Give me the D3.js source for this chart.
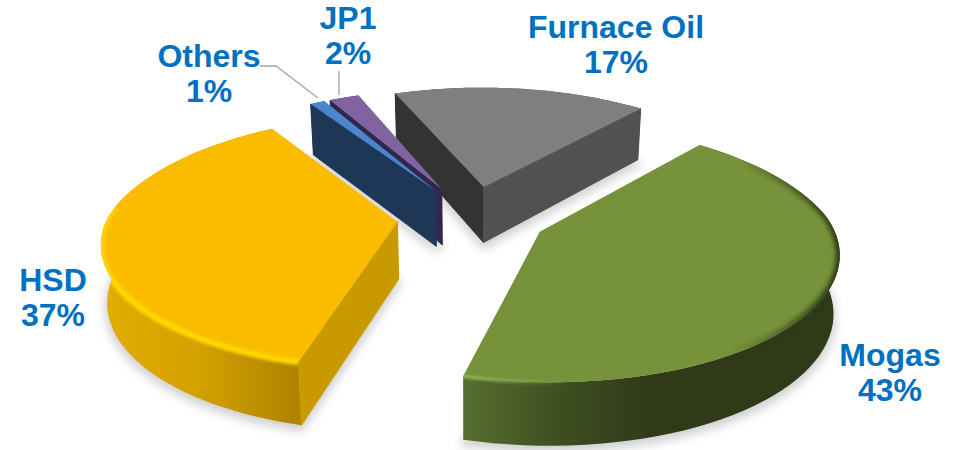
<!DOCTYPE html>
<html>
<head>
<meta charset="utf-8">
<script src="https://cdn.jsdelivr.net/npm/d3@7"></script>
<style>
html,body{margin:0;padding:0;background:#fff;overflow:hidden}
text{font-family:"Liberation Sans",Arial,sans-serif;font-weight:bold;fill:#0070C0;text-anchor:middle}
</style>
</head>
<body>
<svg id="chart" width="955" height="450"></svg>
<script>
// Fuel mix, clockwise from the first slice
const categories = ["Mogas", "HSD", "Others", "JP1", "Furnace Oil"];
const shares = [43, 37, 1, 2, 17];
const topColors = ["#76923A", "#FBBC00", "#4A86D0", "#8064A2", "#7F7F7F"];
const startWallColors = ["#303A18", "#C89A00", "#1F3757", "#31274B", "#333333"];
const endWallColors = ["#303A18", "#C89A00", "#1F3757", "#31274B", "#515151"];
const arcWallStops = [
  [["0", "#566F30"], ["0.25", "#3F4F20"], ["0.5", "#303A18"], ["1", "#303A18"]],
  [["0", "#E3AE00"], ["0.5", "#D2A000"], ["1", "#AE8300"]],
  [["0", "#1F3757"], ["1", "#1F3757"]],
  [["0", "#31274B"], ["1", "#31274B"]],
  [["0", "#515151"], ["1", "#515151"]]
];
const labelAnchors = [[890, 366], [53, 291], [209, 67], [348, 29], [616, 38]];
const leaderLines = [
  {slice: "Others", path: [[260, 66], [276, 66], [318, 98]]},
  {slice: "JP1", path: [[339, 71], [339, 95]]}
];
// Rim bevels: slice, angular fraction range along the arc, colour, width, and an
// optional fade between two x positions
const rimBevels = [
  {i: 0, from: 0.08, to: 0.86, color: "#2F3A18", width: 8, blur: 2.2, fade: [840, 730, 1, 0]},
  {i: 0, from: 0.80, to: 1.0, color: "#8FB055", width: 4, blur: 1.2, fade: [458, 570, 1, 0]},
  {i: 1, from: 0.0, to: 0.62, color: "#FFD800", width: 6, blur: 1.5}
];

// Projection of the tilted pie plane; the far half narrows a little faster than the near half
const view = {
  cx: 472, cy: 217, k: 0.42, radius: 290, explode: 75,
  widthNear: 0.0005, widthFar: 0.0006,
  heightNear: 0.00054, heightFar: 0.0005,
  depth: 57, depthSlope: 0.00035, taper: 0.017
};
const startAngle = 40 * Math.PI / 180;

function project(X, Y, lower) {
  const wx = 1 + (Y < 0 ? view.widthNear : view.widthFar) * Y;
  const wy = 1 + (Y < 0 ? view.heightNear : view.heightFar) * Y;
  const s = lower ? 1 - view.taper : 1;
  return [
    view.cx + s * X / wx,
    view.cy - view.k * Y / wy + (lower ? view.depth * (1 - view.depthSlope * Y) : 0)
  ];
}

const svg = d3.select("#chart");
const defs = svg.append("defs");
const blur = (id, sd) => defs.append("filter").attr("id", id)
  .attr("filterUnits", "userSpaceOnUse")
  .attr("x", 0).attr("y", 0).attr("width", 955).attr("height", 450)
  .append("feGaussianBlur").attr("stdDeviation", sd);
blur("shadowBlur", 5);
rimBevels.forEach((b, n) => blur("rim" + n, b.blur));

const arcs = d3.pie().value(d => d).sort(null)
  .startAngle(startAngle).endAngle(startAngle + 2 * Math.PI)(shares);
const line = d3.line();

const slices = arcs.map((a, i) => {
  const mid = (a.startAngle + a.endAngle) / 2;
  const ox = view.explode * Math.sin(mid), oy = view.explode * Math.cos(mid);
  const pt = (t, lower) => project(ox + view.radius * Math.sin(t), oy + view.radius * Math.cos(t), lower);
  const angles = d3.range(0, 61).map(n => a.startAngle + (a.endAngle - a.startAngle) * n / 60);
  return {
    i, a, angles, pt,
    apexTop: project(ox, oy, false),
    apexLow: project(ox, oy, true)
  };
});

function wallFaces(edge, apex, interior) {
  const d = [edge[0] - apex[0], edge[1] - apex[1]];
  const inside = d[0] * (interior[1] - apex[1]) - d[1] * (interior[0] - apex[0]);
  return d[0] * inside < 0;
}

// Painted far to near
const drawOrder = ["Furnace Oil", "JP1", "Others", "HSD", "Mogas"];
const root = svg.append("g");

drawOrder.forEach(name => {
  const s = slices[categories.indexOf(name)];
  const top = s.angles.map(t => s.pt(t, false));
  const low = s.angles.map(t => s.pt(t, true));
  const topFace = [s.apexTop, ...top];
  const arcWall = [...top, ...low.slice().reverse()];
  const g = root.append("g").attr("class", "slice");

  // Soft shadow under the solid
  g.append("path").attr("d", line([s.apexLow, ...low]) + "Z")
    .attr("transform", "translate(0,4)")
    .attr("fill", "#BDBDBD").attr("stroke", "#BDBDBD").attr("stroke-width", 5)
    .attr("opacity", 0.7).attr("filter", "url(#shadowBlur)");

  // Curved outer wall, shaded left to right
  const xs = d3.extent(top, p => p[0]);
  const gradId = "wall" + s.i;
  const grad = defs.append("linearGradient").attr("id", gradId)
    .attr("gradientUnits", "userSpaceOnUse")
    .attr("x1", xs[0]).attr("x2", xs[1]).attr("y1", 0).attr("y2", 0);
  arcWallStops[s.i].forEach(st => grad.append("stop").attr("offset", st[0]).attr("stop-color", st[1]));
  g.append("path").attr("d", line(arcWall) + "Z").attr("fill", `url(#${gradId})`);

  // Flat walls along the two cut edges, only where they face the viewer
  const interior = top[30];
  [[top[0], low[0], startWallColors[s.i]], [top[60], low[60], endWallColors[s.i]]].forEach(([t, l, color]) => {
    if (wallFaces(t, s.apexTop, interior)) {
      g.append("path").attr("d", line([s.apexTop, t, l, s.apexLow]) + "Z")
        .attr("fill", color).attr("stroke", color).attr("stroke-width", 1).attr("stroke-linejoin", "round");
    }
  });

  g.append("path").attr("d", line(topFace) + "Z").attr("fill", topColors[s.i]);

  // Bevel along the rim, kept inside the solid
  const clipId = "solid" + s.i;
  const clip = defs.append("clipPath").attr("id", clipId);
  clip.append("path").attr("d", line(topFace) + "Z");
  clip.append("path").attr("d", line(arcWall) + "Z");
  rimBevels.forEach((b, n) => {
    if (b.i !== s.i) return;
    let paint = b.color;
    if (b.fade) {
      const fadeId = "bevelFade" + n;
      const f = defs.append("linearGradient").attr("id", fadeId)
        .attr("gradientUnits", "userSpaceOnUse")
        .attr("x1", b.fade[0]).attr("x2", b.fade[1]).attr("y1", 0).attr("y2", 0);
      f.append("stop").attr("offset", 0).attr("stop-color", b.color).attr("stop-opacity", b.fade[2]);
      f.append("stop").attr("offset", 1).attr("stop-color", b.color).attr("stop-opacity", b.fade[3]);
      paint = `url(#${fadeId})`;
    }
    const seg = s.angles.filter((t, k) => k / 60 >= b.from && k / 60 <= b.to).map(t => s.pt(t, false));
    g.append("g").attr("clip-path", `url(#${clipId})`)
      .append("path").attr("d", line(seg)).attr("fill", "none")
      .attr("stroke", paint).attr("stroke-width", b.width)
      .attr("filter", `url(#rim${n})`);
  });
});

// Leader lines for the two thin slices
svg.append("g").selectAll("path").data(leaderLines).join("path")
  .attr("d", d => line(d.path)).attr("fill", "none")
  .attr("stroke", "#A6A6A6").attr("stroke-width", 1.3);

// Category and percentage labels
const labels = svg.append("g").selectAll("text").data(categories).join("text")
  .attr("font-size", 32)
  .attr("x", (d, i) => labelAnchors[i][0])
  .attr("y", (d, i) => labelAnchors[i][1]);
labels.append("tspan").text(d => d);
labels.append("tspan")
  .attr("x", (d, i) => labelAnchors[i][0]).attr("dy", 35)
  .text((d, i) => shares[i] + "%");
</script>
</body>
</html>
